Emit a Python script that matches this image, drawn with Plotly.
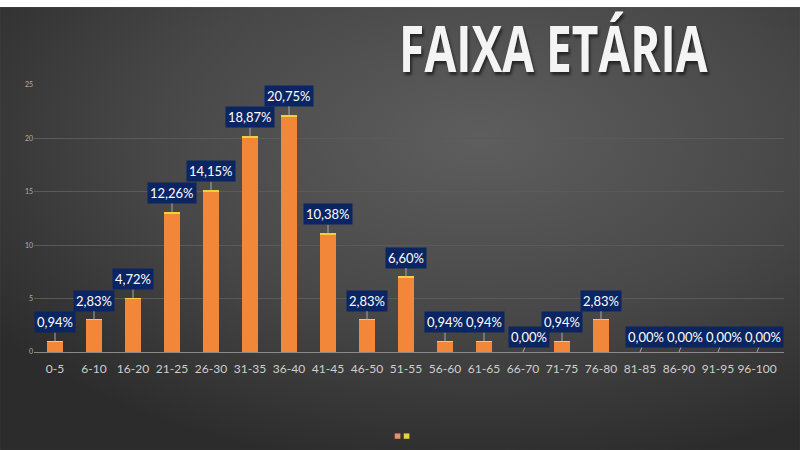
import base64
import plotly.graph_objects as go

# faixas etárias e contagens
faixas = ["0-5", "6-10", "16-20", "21-25", "26-30", "31-35", "36-40", "41-45",
          "46-50", "51-55", "56-60", "61-65", "66-70", "71-75", "76-80",
          "81-85", "86-90", "91-95", "96-100"]
contagem = [1, 3, 5, 13, 15, 20, 22, 11, 3, 7, 1, 1, 0, 1, 3, 0, 0, 0, 0]
percentual = [0.94, 2.83, 4.72, 12.26, 14.15, 18.87, 20.75, 10.38, 2.83, 6.60,
              0.94, 0.94, 0.00, 0.94, 2.83, 0.00, 0.00, 0.00, 0.00]
y_ticks = [0, 5, 10, 15, 20, 25]

# fundo com degrade radial (svg embutido)
svg = """<svg xmlns='http://www.w3.org/2000/svg' width='800' height='443' viewBox='0 0 800 443' preserveAspectRatio='none'>
<defs><radialGradient id='g' cx='0.6' cy='0.3' r='0.75'>
<stop offset='0' stop-color='#5e5e5e'/><stop offset='0.55' stop-color='#474747'/>
<stop offset='1' stop-color='#2c2c2c'/></radialGradient></defs>
<rect width='800' height='443' fill='url(#g)'/></svg>"""
bg_src = "data:image/svg+xml;base64," + base64.b64encode(svg.encode()).decode()

fig = go.Figure()
fig.add_trace(go.Bar(x=faixas, y=contagem, name="Quantidade",
                     marker=dict(color="#f2873a", line=dict(width=0))))
fig.add_trace(go.Bar(x=faixas, y=[p / 100 for p in percentual], name="Percentual",
                     marker=dict(color="#f2d23a", line=dict(width=0))))

# rótulos de dados (caixas azuis)
for f, c, p in zip(faixas, contagem, percentual):
    txt = f"{p:.2f}%".replace(".", ",")
    zero = c == 0
    fig.add_annotation(x=f, y=c + p / 100, text=txt, showarrow=True,
                       arrowhead=0, arrowwidth=1, arrowcolor="#a8a8a8",
                       ax=6 if zero else 0, ay=-15 if zero else -19,
                       bgcolor="#0b2562", borderpad=2,
                       font=dict(family="Lato, Open Sans, sans-serif", size=13, color="white"))

fig.add_annotation(text="<b>FAIXA ETÁRIA</b>", xref="paper", yref="paper",
                   x=0.692, y=1.14, showarrow=False, xanchor="center", yanchor="middle",
                   font=dict(family="Open Sans", size=64, color="#f4f4f4",
                             shadow="2px 3px 3px rgba(0,0,0,0.55)"))

# legenda (dois quadradinhos)
for x0, col in [(0.481, "#e8906a"), (0.493, "#e8d43a")]:
    fig.add_shape(type="rect", xref="paper", yref="paper", x0=x0, x1=x0 + 0.0075,
                  y0=-0.325, y1=-0.305, fillcolor=col, line=dict(width=0))

fig.add_layout_image(source=bg_src, xref="paper", yref="paper", x=-0.0453, y=1.292,
                     sizex=1.0666, sizey=1.659, sizing="stretch", layer="below",
                     xanchor="left", yanchor="top")

fig.update_layout(
    width=800, height=450, barmode="stack", bargap=0.6, showlegend=False,
    paper_bgcolor="white", plot_bgcolor="rgba(0,0,0,0)",
    margin=dict(l=34, r=16, t=85, b=98),
)
fig.update_xaxes(showline=True, linecolor="#8a8a8a", linewidth=1, showgrid=False,
                 ticks="outside", ticklen=6, tickcolor="rgba(0,0,0,0)",
                 tickfont=dict(family="Lato, Open Sans", size=12, color="#cfcfcf"))
fig.update_yaxes(range=[0, 25], tickvals=y_ticks, showgrid=True, gridcolor="#5a5a5a",
                 gridwidth=1, zeroline=False,
                 tickfont=dict(family="Lato, Open Sans", size=7, color="#b0b0b0"))

# sem margem na página e título mais estreito (fonte condensada)
post = """
document.body.style.margin = '0';
var gd = document.getElementById('{plot_id}');
gd.querySelectorAll('.annotation-text').forEach(function (t) {
  if (t.textContent.indexOf('FAIXA') >= 0) {
    t.style.transformBox = 'fill-box';
    t.style.transformOrigin = 'center';
    t.style.transform = 'scaleX(0.72)';
  }
});
"""
fig.write_html("out.html", post_script=post, config={"displayModeBar": False})
